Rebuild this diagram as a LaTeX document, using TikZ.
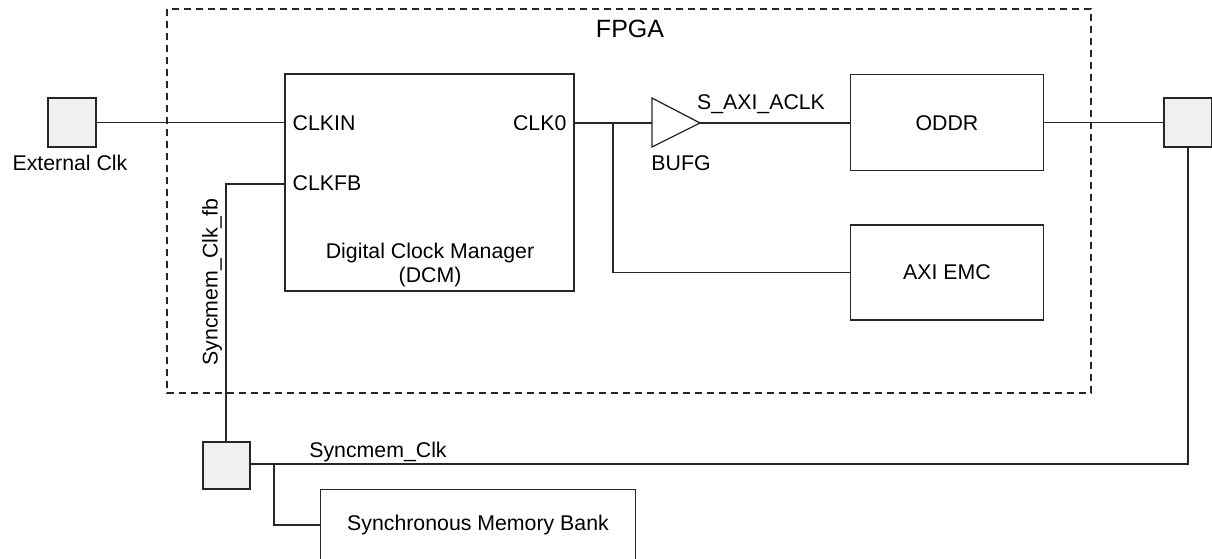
\documentclass[tikz,border=0pt]{standalone}
\usepackage{fontspec}
\setmainfont{Liberation Sans}
\begin{document}
\begin{tikzpicture}[x=1pt,y=-1pt,
  line width=1.3pt, draw={black!85},
  lbl/.style={font=\fontsize{21.3}{22.5}\selectfont, inner sep=0pt},
  blk/.style={draw, line width=1.3pt, rectangle, inner sep=0pt},
  pad/.style={draw, line width=1.3pt, fill={rgb,255:red,240;green,240;blue,240}, inner sep=0pt},
  wire/.style={line width=1.3pt, draw={black!85}}]
\useasboundingbox (0,0) rectangle (1212,558);
% FPGA boundary
\draw[line width=1.1pt, dash pattern=on 7pt off 5pt] (167,9) rectangle (1091,393);
\node[lbl, font=\fontsize{25}{30}\selectfont] (fpga) at (630,29) {FPGA};
% pads
\node[pad, minimum width=48pt, minimum height=49pt] (ext) at (72,122.5) {};
\node[lbl] (extl) at (70,163) {External Clk};
\node[pad, minimum width=48pt, minimum height=49pt] (rpad) at (1188,122.5) {};
\node[pad, minimum width=47pt, minimum height=47pt] (spad) at (226.5,465.5) {};
% DCM
\node[blk, minimum width=289pt, minimum height=217pt] (dcm) at (429.5,182.5) {};
\node[lbl, anchor=west] (clkin) at (292,123) {CLKIN};
\node[lbl, anchor=west] (clkfb) at (292,183) {CLKFB};
\node[lbl, anchor=east] (clk0) at (567,123) {CLK0};
\node[lbl, align=center] (dcml) at (430,265) {Digital Clock Manager\\[2pt](DCM)};
% BUFG
\coordinate (bin) at (652,123);
\coordinate (bout) at (700,123);
\draw[line width=1.3pt] (652,98) -- (700,123) -- (652,147) -- cycle;
\node[lbl] (bufg) at (681,163) {BUFG};
% ODDR, AXI EMC
\node[blk, minimum width=193pt, minimum height=96pt] (oddr) at (947,122.5) {};
\node[lbl] (oddrl) at (947,123) {ODDR};
\node[blk, minimum width=193pt, minimum height=95pt] (emc) at (947,272.5) {};
\node[lbl] (emcl) at (947,272) {AXI EMC};
% memory bank
\node[blk, minimum width=315pt, minimum height=90pt, anchor=north west] (mem) at (320,489) {};
\node[lbl] (meml) at (478,525) {Synchronous Memory Bank};
% wires
\draw[wire] (ext.east) -- (ext.east -| dcm.west);
\draw[wire] (dcm.east |- bin) -- (bin);
\coordinate (br) at (613,123);
\draw[wire] (br) |- (emc.west);
\draw[wire] (bout) -- (bout -| oddr.west);
\node[lbl] (saxi) at (761,104) {S\_AXI\_ACLK};
\draw[wire] (oddr.east) -- (rpad.west);
\coordinate (fb) at (285,184);
\draw[wire] (fb) -- (226,184) -- (spad.north -| 226,0);
\node[lbl, rotate=90] (fbl) at (212,282) {Syncmem\_Clk\_fb};
\coordinate (sc) at (1188,464);
\draw[wire] (spad.east |- sc) -- (sc) -- (rpad.south);
\node[lbl] (scl) at (378,452) {Syncmem\_Clk};
\coordinate (mb) at (274,464);
\draw[wire] (mb) |- (320,525);
\end{tikzpicture}
\end{document}
